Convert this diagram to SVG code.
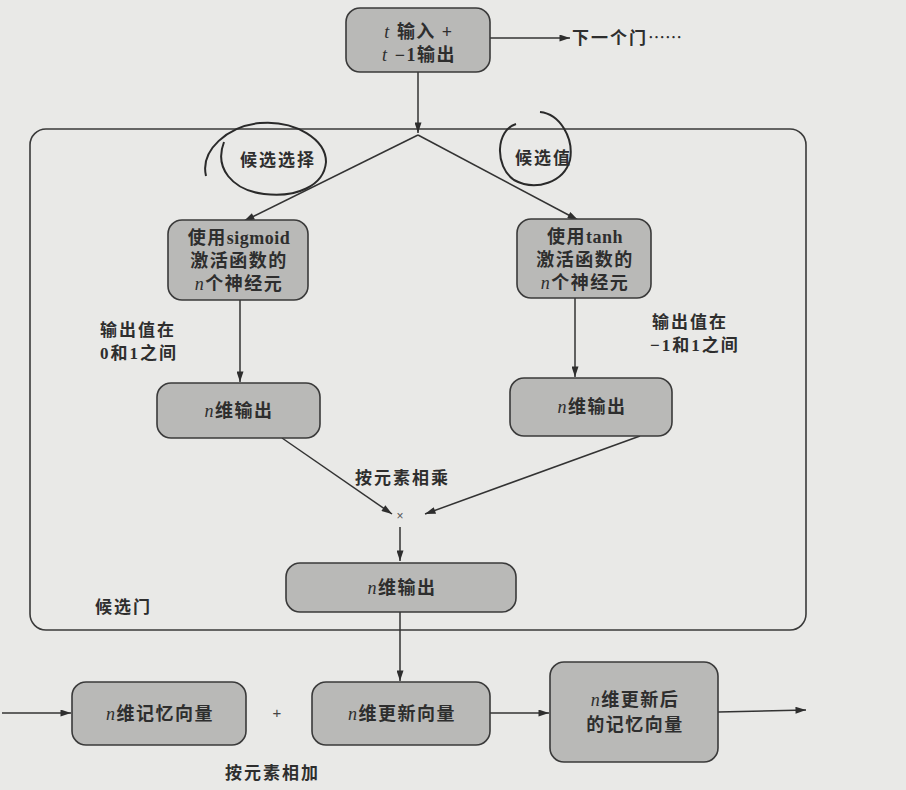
<svg xmlns="http://www.w3.org/2000/svg" width="906" height="790" viewBox="0 0 906 790">
<defs>
<marker id="ah" viewBox="0 0 12 8" refX="12" refY="4" markerWidth="12" markerHeight="7" orient="auto" markerUnits="userSpaceOnUse">
<path d="M0,0 L12,4 L0,8 z" fill="#2e2e2e"/>
</marker>
</defs>
<style>
.node{fill:#b9b9b7;stroke:#3a3a3a;stroke-width:1.6}
.t{font-family:"Liberation Serif","Noto Sans CJK SC",serif;font-size:18px;font-weight:bold;fill:#2e2e2e;text-anchor:middle;letter-spacing:1.5px}
.l{font-family:"Liberation Serif","Noto Sans CJK SC",serif;font-size:17px;font-weight:bold;fill:#2e2e2e;letter-spacing:2px}
.i{font-style:italic;font-weight:normal}
.ls{letter-spacing:0.5px}
.cjk{font-family:"Noto Sans CJK SC",sans-serif;font-weight:normal;letter-spacing:0}
.c{stroke:#333;stroke-width:1.5;fill:none}
.h{stroke:#2a2a2a;stroke-width:2;fill:none}
</style>
<rect width="906" height="790" fill="#e9e9e7"/>
<rect id="container" x="30" y="129" width="776" height="501" rx="16" fill="none" stroke="#3a3a3a" stroke-width="1.6"/>
<g id="connectors">
<line class="c" x1="490" y1="38" x2="570" y2="38" marker-end="url(#ah)"/>
<line class="c" x1="418" y1="72" x2="418" y2="133" marker-end="url(#ah)"/>
<line class="c" x1="418" y1="135" x2="244" y2="221" marker-end="url(#ah)"/>
<line class="c" x1="418" y1="135" x2="578" y2="220" marker-end="url(#ah)"/>
<line class="c" x1="240" y1="300" x2="240" y2="382" marker-end="url(#ah)"/>
<line class="c" x1="575" y1="298" x2="575" y2="377" marker-end="url(#ah)"/>
<line class="c" x1="282" y1="438" x2="392" y2="514" marker-end="url(#ah)"/>
<line class="c" x1="640" y1="436" x2="425" y2="514" marker-end="url(#ah)"/>
<line class="c" x1="400" y1="527" x2="400" y2="561" marker-end="url(#ah)"/>
<line class="c" x1="400" y1="612" x2="400" y2="681" marker-end="url(#ah)"/>
<line class="c" x1="2" y1="713" x2="71" y2="713" marker-end="url(#ah)"/>
<line class="c" x1="490" y1="713" x2="549" y2="713" marker-end="url(#ah)"/>
<line class="c" x1="718" y1="712" x2="806" y2="710" marker-end="url(#ah)"/>
</g>
<g id="input">
<rect class="node" x="346" y="8" width="144" height="64" rx="14"/>
<text class="t" x="419" y="38"><tspan class="i">t</tspan> 输入 +</text>
<text class="t" x="419" y="61"><tspan class="i">t</tspan> −1输出</text>
</g>
<text class="l" x="572" y="44">下一个门<tspan class="cjk">……</tspan></text>
<g id="annotations">
<path class="h" d="M206,176 C200,150 228,126 260,123 C296,120 326,140 326,162 C324,186 296,198 264,194 C232,190 214,168 224,142"/>
<path class="h" d="M516,124 C496,130 494,166 514,180 C536,192 564,182 570,160 C574,138 560,114 540,112"/>
</g>
<text class="l" x="240" y="166">候选选择</text>
<text class="l" x="515" y="164">候选值</text>
<g id="sigmoid">
<rect class="node" x="168" y="220" width="140" height="80" rx="14"/>
<text class="t" x="239" y="244">使用<tspan class="ls">sigmoid</tspan></text>
<text class="t" x="239" y="267">激活函数的</text>
<text class="t" x="239" y="290"><tspan class="i">n</tspan>个神经元</text>
</g>
<g id="tanh">
<rect class="node" x="517" y="219" width="134" height="79" rx="14"/>
<text class="t" x="585" y="243">使用<tspan class="ls">tanh</tspan></text>
<text class="t" x="585" y="266">激活函数的</text>
<text class="t" x="585" y="289"><tspan class="i">n</tspan>个神经元</text>
</g>
<text class="l" x="100" y="336">输出值在</text>
<text class="l" x="100" y="359">0和1之间</text>
<text class="l" x="652" y="328">输出值在</text>
<text class="l" x="650" y="351">−1和1之间</text>
<g id="out_left">
<rect class="node" x="157" y="383" width="163" height="55" rx="14"/>
<text class="t" x="239" y="417"><tspan class="i">n</tspan>维输出</text>
</g>
<g id="out_right">
<rect class="node" x="510" y="378" width="162" height="58" rx="14"/>
<text class="t" x="592" y="413"><tspan class="i">n</tspan>维输出</text>
</g>
<text class="l" x="355" y="484">按元素相乘</text>
<text x="400" y="520" font-family="Liberation Sans, sans-serif" font-size="12" fill="#555" text-anchor="middle">×</text>
<g id="out_mid">
<rect class="node" x="286" y="563" width="230" height="49" rx="14"/>
<text class="t" x="402" y="594"><tspan class="i">n</tspan>维输出</text>
</g>
<text class="l" x="95" y="613">候选门</text>
<g id="memory">
<rect class="node" x="72" y="682" width="174" height="63" rx="14"/>
<text class="t" x="160" y="720"><tspan class="i">n</tspan>维记忆向量</text>
</g>
<text x="277" y="718" font-family="Liberation Sans, sans-serif" font-size="15" fill="#444" text-anchor="middle">+</text>
<g id="update">
<rect class="node" x="312" y="682" width="178" height="63" rx="14"/>
<text class="t" x="402" y="720"><tspan class="i">n</tspan>维更新向量</text>
</g>
<g id="updated_memory">
<rect class="node" x="550" y="662" width="168" height="100" rx="14"/>
<text class="t" x="635" y="706"><tspan class="i">n</tspan>维更新后</text>
<text class="t" x="635" y="731">的记忆向量</text>
</g>
<text class="l" x="225" y="779">按元素相加</text>
</svg>
